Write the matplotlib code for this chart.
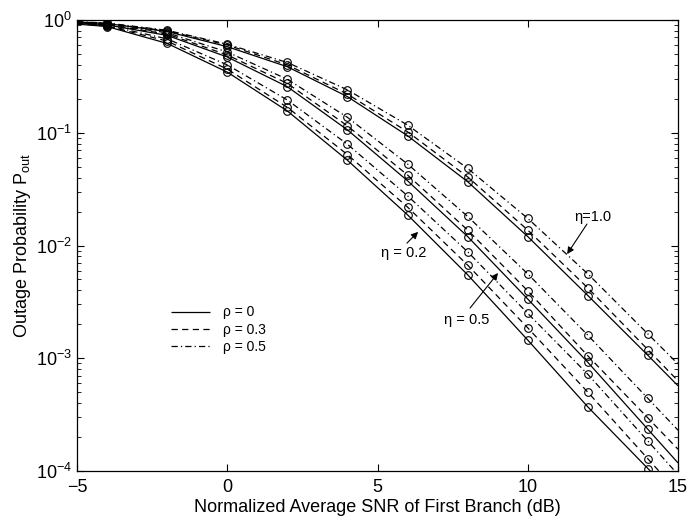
import matplotlib
matplotlib.use("Agg")
import matplotlib.pyplot as plt

plt.rcParams["font.family"] = ["Liberation Sans", "DejaVu Sans"]
plt.rcParams["mathtext.fontset"] = "custom"
plt.rcParams["mathtext.rm"] = "Liberation Sans"
plt.rcParams["mathtext.it"] = "Liberation Sans:italic"
plt.rcParams["mathtext.bf"] = "Liberation Sans:bold"

# SNR (dB); first and last points are only line end points, the rest carry circles
snr = [-5, -4, -2, 0, 2, 4, 6, 8, 10, 12, 14, 15]

# eta = 1.0
eta10_rho0 = [0.96, 0.93, 0.79, 0.58, 0.385, 0.209, 0.094, 0.0368, 0.0120, 0.0036, 0.00106, 0.00057]
eta10_rho3 = [0.962, 0.935, 0.80, 0.60, 0.40, 0.22, 0.102, 0.0406, 0.0137, 0.0042, 0.00119, 0.00063]
eta10_rho5 = [0.965, 0.94, 0.81, 0.61, 0.42, 0.24, 0.117, 0.0483, 0.0174, 0.0056, 0.00164, 0.00089]
# eta = 0.5
eta05_rho0 = [0.945, 0.905, 0.73, 0.47, 0.256, 0.106, 0.0375, 0.0120, 0.00335, 0.00092, 0.000234, 0.000118]
eta05_rho3 = [0.95, 0.91, 0.75, 0.49, 0.274, 0.115, 0.0422, 0.0137, 0.00396, 0.00105, 0.000295, 0.000156]
eta05_rho5 = [0.955, 0.92, 0.77, 0.52, 0.298, 0.137, 0.0528, 0.0181, 0.0056, 0.0016, 0.00044, 0.00023]
# eta = 0.2
eta02_rho0 = [0.92, 0.875, 0.62, 0.345, 0.156, 0.057, 0.0187, 0.0055, 0.00145, 0.00037, 0.000105, 0.000056]
eta02_rho3 = [0.925, 0.885, 0.65, 0.367, 0.168, 0.064, 0.0219, 0.0067, 0.00186, 0.0005, 0.000128, 0.000065]
eta02_rho5 = [0.93, 0.895, 0.68, 0.40, 0.195, 0.079, 0.0276, 0.0088, 0.0025, 0.00072, 0.000184, 0.000093]

rho_labels = ["\u03c1 = 0", "\u03c1 = 0.3", "\u03c1 = 0.5"]
styles = [(0, ()), (0, (5, 3.5)), (0, (5, 2.5, 1, 2.5))]

groups = [
    [eta10_rho0, eta10_rho3, eta10_rho5],
    [eta05_rho0, eta05_rho3, eta05_rho5],
    [eta02_rho0, eta02_rho3, eta02_rho5],
]

fig = plt.figure(figsize=(7.0, 5.18), dpi=100)
ax = fig.add_axes([0.110, 0.0907, 0.8586, 0.8707])

for gi, group in enumerate(groups):
    for ri, vals in enumerate(group):
        ax.plot(snr, vals, linestyle=styles[ri], color="black", lw=0.9,
                label=rho_labels[ri] if gi == 0 else None)
        ax.plot(snr[1:-1], vals[1:-1], "o", ms=5.5, mfc="none", mec="black", mew=0.8)

ax.set_yscale("log")
ax.set_xlim(-5, 15)
ax.set_ylim(1e-4, 1)
ax.set_xticks([-5, 0, 5, 10, 15])
ax.set_xticklabels(["\u22125", "0", "5", "10", "15"])
ax.tick_params(which="both", direction="in", top=True, right=True, labelsize=13)
ax.tick_params(axis="x", pad=6)
ax.tick_params(which="major", length=5, width=0.8)
ax.tick_params(which="minor", length=3, width=0.6)
for s in ax.spines.values():
    s.set_linewidth(0.9)

ax.set_xlabel("Normalized Average SNR of First Branch (dB)", fontsize=13, labelpad=2)
ax.set_ylabel("Outage Probability P$_{\\mathrm{out}}$", fontsize=13, labelpad=2)

arrow = dict(arrowstyle="-|>", color="black", lw=0.8, shrinkA=0, shrinkB=0,
             mutation_scale=10)
# eta labels and their arrows (head, tail)
ax.text(12.17, 0.0179, "\u03b7=1.0", fontsize=10.5, ha="center", va="center")
ax.annotate("", xy=(11.31, 0.0084), xytext=(11.97, 0.0155), arrowprops=arrow)
ax.text(5.88, 0.00858, "\u03b7 = 0.2", fontsize=10.5, ha="center", va="center")
ax.annotate("", xy=(6.35, 0.0132), xytext=(5.98, 0.0105), arrowprops=arrow)
ax.text(7.98, 0.00218, "\u03b7 = 0.5", fontsize=10.5, ha="center", va="center")
ax.annotate("", xy=(9.01, 0.0057), xytext=(8.08, 0.00279), arrowprops=arrow)

ax.legend(loc="upper left", bbox_to_anchor=(0.135, 0.395), frameon=False, fontsize=10,
          handlelength=2.8, handletextpad=1.0, labelspacing=0.25)

fig.savefig("out.png", dpi=100)
